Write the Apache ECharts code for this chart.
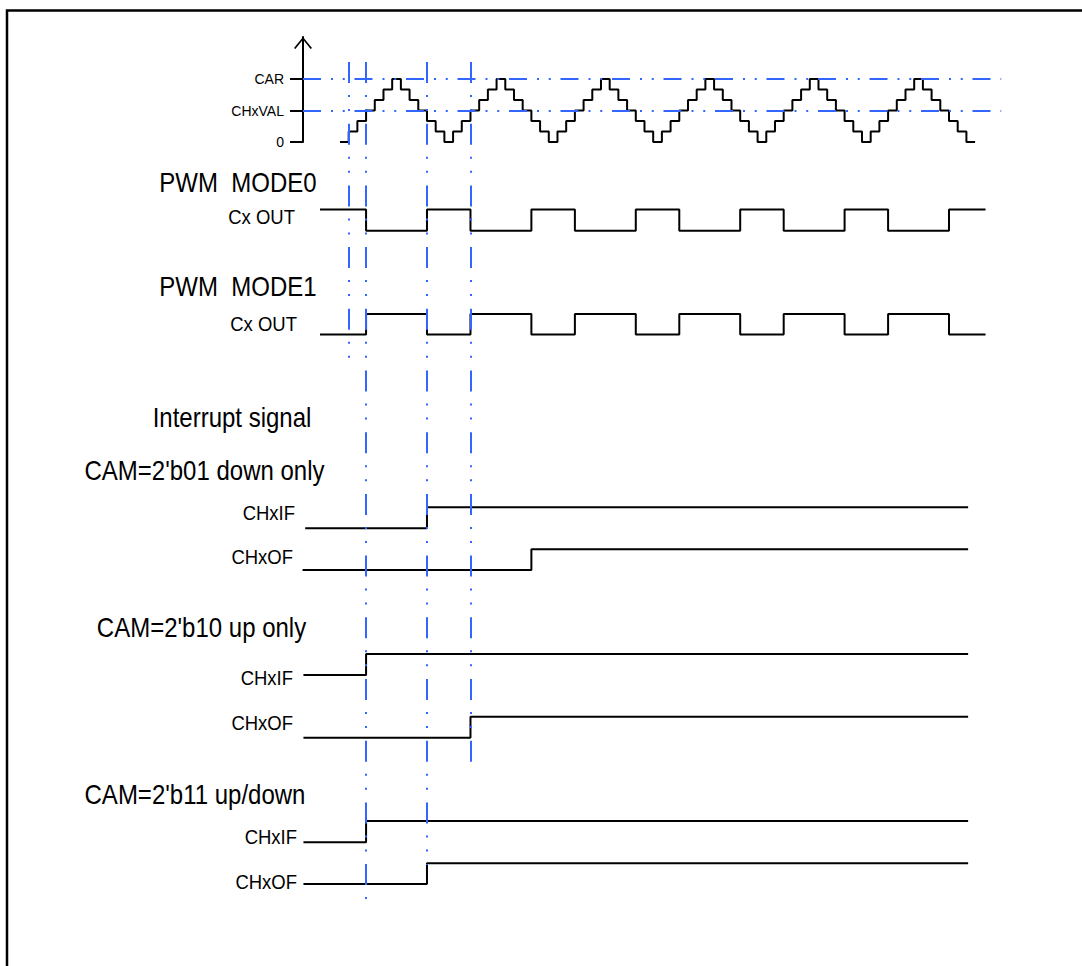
<!DOCTYPE html>
<html><head><meta charset="utf-8">
<script src="https://cdn.jsdelivr.net/npm/echarts@6/dist/echarts.min.js"></script>
<style>html,body{margin:0;padding:0;background:#fff}#c{width:1082px;height:966px}</style>
</head><body><div id="c"></div>
<script>
// ---------------- data ----------------
// counter value held during each count step (step index 0..72), last entry closes the final step
const counterValues = [0,1,2,3,4,5,6,5,4,3,2,1, 0,1,2,3,4,5,6,5,4,3,2,1, 0,1,2,3,4,5,6,5,4,3,2,1,
                       0,1,2,3,4,5,6,5,4,3,2,1, 0,1,2,3,4,5,6,5,4,3,2,1, 0,1,2,3,4,5,6,5,4,3,2,1, 0,0];
const counterTickValues = [0, 3, 6];
const counterTickLabels = ['0', 'CHxVAL', 'CAR'];
const compareLevels = [6, 3];           // CAR, CHxVAL

// PWM outputs: edge times (in count steps) and level after each edge
const pwmTimes   = [-2.3, 3, 10, 15, 22, 27, 34, 39, 46, 51, 58, 63, 70, 74.2];
const mode0Levels = [1, 0, 1, 0, 1, 0, 1, 0, 1, 0, 1, 0, 1, 1];
const mode1Levels = [0, 1, 0, 1, 0, 1, 0, 1, 0, 1, 0, 1, 0, 0];

// interrupt flags
const cam01IFTimes = [-4.0, 10, 72.2];
const cam01OFTimes = [-4.3, 22, 72.2];
const cam10IFTimes = [-4.2, 3, 72.2];
const cam10OFTimes = [-4.2, 15, 72.2];
const cam11IFTimes = [-4.2, 3, 72.2];
const cam11OFTimes = [-4.2, 10, 72.2];
const flagLevels   = [0, 1, 1];

// vertical reference events (count steps)
const guideSteps = [1, 3, 10, 15];

// texts
const sectionTitles = ['PWM  MODE0', 'PWM  MODE1', 'Interrupt signal', "CAM=2'b01 down only", "CAM=2'b10 up only", "CAM=2'b11 up/down"];
const traceNames = ['Cx OUT', 'Cx OUT', 'CHxIF', 'CHxOF', 'CHxIF', 'CHxOF', 'CHxIF', 'CHxOF'];

// ---------------- layout ----------------
const BLUE = '#3366ff';
const FONT = '"Liberation Sans", Arial, sans-serif';
const X_MIN = -4.25, X_MAX = 76, GRID_LEFT = 303, GRID_W = 698.2;
const traceRows = [
  {top: 209.5, h: 21.2, lx: 295, ly: 217},
  {top: 314,   h: 20.4, lx: 297, ly: 324},
  {top: 507.3, h: 21,   lx: 295, ly: 513},
  {top: 549.3, h: 20.7, lx: 293, ly: 557},
  {top: 654,   h: 21,   lx: 293, ly: 678},
  {top: 716.7, h: 21,   lx: 293, ly: 723},
  {top: 821,   h: 21.3, lx: 297, ly: 837},
  {top: 863.3, h: 20.7, lx: 297, ly: 882}
];
const titlePos = [
  {cx: 238, cy: 182}, {cx: 238, cy: 286}, {cx: 232, cy: 417},
  {cx: 204.5, cy: 470}, {cx: 201.5, cy: 627}, {cx: 195, cy: 794}
];
const guideTop = 62, guideHeight = 838;
const guideEnds = [297, 838, 803, 700];

const traceData = [
  [pwmTimes, mode0Levels], [pwmTimes, mode1Levels],
  [cam01IFTimes, flagLevels], [cam01OFTimes, flagLevels],
  [cam10IFTimes, flagLevels], [cam10OFTimes, flagLevels],
  [cam11IFTimes, flagLevels], [cam11OFTimes, flagLevels]
];

const grids = [], xAxes = [], yAxes = [], series = [];
function addGrid(top, height) {
  grids.push({left: GRID_LEFT, width: GRID_W, top: top, height: height, containLabel: false});
  const i = grids.length - 1;
  xAxes.push({type: 'value', gridIndex: i, min: X_MIN, max: X_MAX, show: false});
  return i;
}
const lineBase = {type: 'line', step: 'end', symbol: 'none', clip: false, silent: true, animation: false,
  lineStyle: {color: '#000', width: 2}};

// counter grid
const gC = addGrid(37, 105);
yAxes.push({
  type: 'value', gridIndex: gC, min: 0, max: 10, show: true,
  axisLine: {show: true, onZero: false, lineStyle: {color: '#000', width: 2},
    symbol: ['none', 'path://M0,11 L9,0 L18,11 L16.6,12 L9,2.6 L1.4,12 Z'], symbolSize: [18, 12], symbolOffset: [0, -6]},
  axisTick: {show: true, customValues: counterTickValues, length: 13, lineStyle: {color: '#000', width: 2}},
  axisLabel: {show: true, customValues: counterTickValues, margin: 19, color: '#000', fontSize: 14, fontFamily: FONT,
    formatter: function (v) { return counterTickLabels[counterTickValues.indexOf(v)]; }},
  splitLine: {show: false}
});
series.push(Object.assign({}, lineBase, {
  xAxisIndex: gC, yAxisIndex: gC,
  data: counterValues.map(function (v, i) { return [i, v]; }),
  markLine: {silent: true, symbol: ['none', 'none'], label: {show: false}, animation: false,
    lineStyle: {color: BLUE, width: 2, type: [18, 10, 2, 9.75, 2, 9.75]},
    emphasis: {disabled: true},
    data: compareLevels.map(function (v) { return {yAxis: v}; })}
}));

// trace grids
traceRows.forEach(function (r, k) {
  const g = addGrid(r.top, r.h);
  yAxes.push({type: 'value', gridIndex: g, min: 0, max: 1, show: false});
  const d = traceData[k];
  series.push(Object.assign({}, lineBase, {
    xAxisIndex: g, yAxisIndex: g,
    data: d[0].map(function (t, i) { return [t, d[1][i]]; })
  }));
});

// guide grid
const gG = addGrid(guideTop, guideHeight);
yAxes.push({type: 'value', gridIndex: gG, min: 0, max: guideHeight, inverse: true, show: false});
series.push({
  type: 'line', xAxisIndex: gG, yAxisIndex: gG, data: [], silent: true, animation: false, symbol: 'none',
  markLine: {silent: true, symbol: ['none', 'none'], label: {show: false}, animation: false,
    emphasis: {disabled: true},
    lineStyle: {color: BLUE, width: 2, type: [21, 12, 2, 12, 2, 12.7]},
    data: guideSteps.map(function (s, i) { return [{coord: [s, 0]}, {coord: [s, guideEnds[i]]}]; })}
});

// texts
const graphics = [{type: 'rect', shape: {x: 7, y: 10.5, width: 1200, height: 1100},
  style: {fill: 'none', stroke: '#000', lineWidth: 2.5}, silent: true}];
sectionTitles.forEach(function (t, i) {
  graphics.push({type: 'text', x: titlePos[i].cx, y: titlePos[i].cy, scaleY: 1.15, silent: true,
    style: {text: t, fill: '#000', fontSize: 24, fontFamily: FONT, align: 'center', verticalAlign: 'middle',
      textAlign: 'center', textVerticalAlign: 'middle'}});
});
traceNames.forEach(function (t, i) {
  graphics.push({type: 'text', x: traceRows[i].lx, y: traceRows[i].ly, scaleY: 1.13, silent: true,
    style: {text: t, fill: '#000', fontSize: 18.5, fontFamily: FONT, align: 'right', verticalAlign: 'middle',
      textAlign: 'right', textVerticalAlign: 'middle'}});
});

const chart = echarts.init(document.getElementById('c'), null, {renderer: 'svg'});
chart.setOption({
  animation: false,
  backgroundColor: '#fff',
  grid: grids, xAxis: xAxes, yAxis: yAxes, series: series,
  graphic: graphics
});
</script></body></html>
